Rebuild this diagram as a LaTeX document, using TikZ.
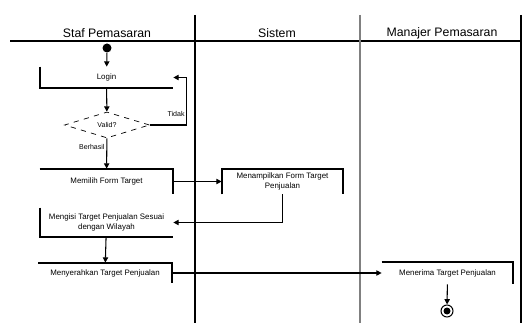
\documentclass[tikz,border=0pt]{standalone}
\usepackage{fontspec}
\setmainfont{Liberation Sans}
\usetikzlibrary{shapes.geometric,arrows.meta}

\tikzset{
  act/.style={minimum width=2.66cm, minimum height=0.5cm, inner sep=1pt, align=center, font=\fontsize{4.5}{5.2}\selectfont},
  bracket/.style={line width=1pt},
  flow/.style={line width=0.6pt, -{Triangle[length=3pt,width=3pt]}},
  lane/.style={line width=0.8pt},
  lbl/.style={font=\fontsize{4}{5}\selectfont, inner sep=1pt},
  head/.style={font=\fontsize{7}{8}\selectfont}
}

\begin{document}
\begin{tikzpicture}[x=0.02cm, y=-0.02cm]
\useasboundingbox (0,0) rectangle (526,323);

% swimlanes
\draw[lane] (10,41) -- (521,41);
\draw[lane] (195,15) -- (195,323);
\draw[lane, gray] (360,15) -- (360,323);
\draw[lane] (521,15) -- (521,323);
\node[head] (hstaf) at (107,33) {Staf Pemasaran};
\node[head] (hsis) at (277,33) {Sistem};
\node[head] (hman) at (442,33) {Manajer Pemasaran};

% start and end
\node[circle, fill, inner sep=0, minimum size=0.18cm] (start) at (107,48) {};
\node[circle, draw, line width=0.6pt, inner sep=0, minimum size=0.24cm] (stop) at (447,311) {};
\fill (stop) circle (0.07cm);

% activities of staf pemasaran
\node[act, minimum height=0.42cm] (login) at (106.5,77.5) {Login};
\draw[bracket] (login.north west) -- (login.south west) -- (login.south east);

\node[diamond, draw, dashed, inner sep=0, aspect=3, minimum width=1.7cm, minimum height=0.52cm, font=\fontsize{4}{5}\selectfont] (cek) at (107,125) {Valid?};

\node[act] (memilih) at (106.5,181.5) {Memilih Form Target};
\draw[bracket] (memilih.north west) -- (memilih.north east) -- (memilih.south east);

\node[act, minimum height=0.58cm] (mengisi) at (106.5,222.5) {Mengisi Target Penjualan Sesuai\\dengan Wilayah};
\draw[bracket] (mengisi.north west) -- (mengisi.south west) -- (mengisi.south east);

\node[act, minimum height=0.4cm] (serah) at (105,273) {Menyerahkan Target Penjualan};
\draw[bracket] (serah.north west) -- (serah.north east) -- (serah.south east);

% sistem
\node[act, minimum width=2.42cm] (tampil) at (282.5,181.5) {Menampilkan Form Target\\Penjualan};
\draw[bracket] (tampil.south west) -- (tampil.north west) -- (tampil.north east) -- (tampil.south east);

% manajer pemasaran
\node[act, minimum width=2.62cm, minimum height=0.44cm] (terima) at (447.5,273) {Menerima Target Penjualan};
\draw[bracket] (terima.north west) -- (terima.north east) -- (terima.south east);

% flows
\draw[flow] (start) -- (login);
\draw[flow] (login) -- (cek);
\draw[flow] (cek) -- node[lbl, left, pos=0.3] {Berhasil} (memilih);
\draw[flow] (cek.east) -- ++(37,0) |- node[lbl, left, pos=0.12] {Tidak} (login.east);
\draw[flow] (memilih) -- (tampil);
\draw[flow] (tampil.south) |- (mengisi.east);
\draw[flow] (mengisi) -- (serah);
\draw[flow] (serah) -- (terima);
\draw[flow] (terima) -- (stop);
\end{tikzpicture}
\end{document}
